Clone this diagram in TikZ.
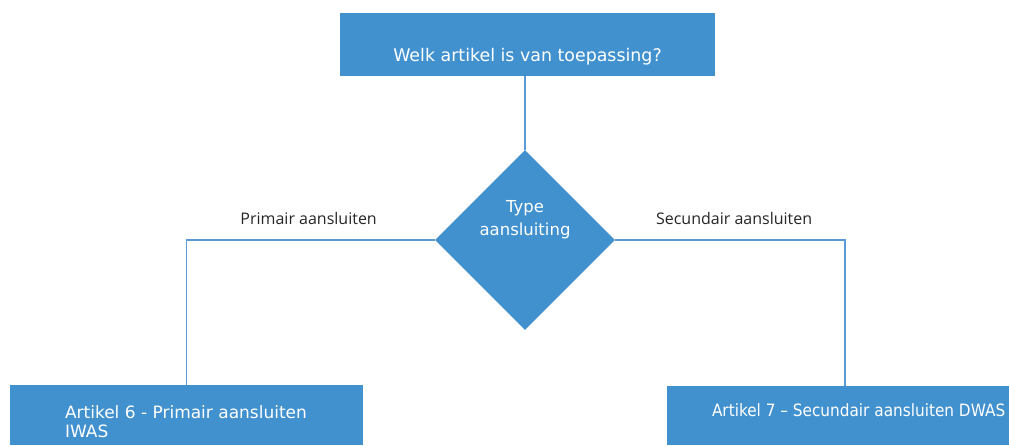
\documentclass[tikz,border=0pt]{standalone}
\usepackage{fontspec}
\setmainfont{DejaVu Sans}
\newfontfamily\labelfont{Open Sans}
\usetikzlibrary{shapes.geometric}
\definecolor{boxblue}{HTML}{4191CF}
\definecolor{lineblue}{HTML}{5B9BD5}
\definecolor{labelgray}{HTML}{262626}
\tikzset{
  box/.style={rectangle, fill=boxblue, draw=none, text=white, inner sep=0pt,
    font=\fontsize{17}{19}\selectfont},
  decision/.style={diamond, aspect=1, fill=boxblue, draw=none, text=white, inner sep=0pt,
    minimum width=180pt, minimum height=180pt, font=\fontsize{16.5}{23}\selectfont},
  conn/.style={draw=lineblue, line width=1.3pt},
  edgelabel/.style={text=labelgray, font=\labelfont\fontsize{16}{18}\selectfont, inner sep=0pt}
}
\begin{document}
\begin{tikzpicture}[x=1pt,y=-1pt]
\useasboundingbox (0,0) rectangle (1009,445);
\node[box, minimum width=375pt, minimum height=63pt] (top) at (527.5,44.5)
  {\raisebox{-16.5pt}[0pt][0pt]{\fontsize{17.4}{20}\selectfont Welk artikel is van toepassing?}};
\node[decision] (d) at (525,240)
  {\raisebox{16pt}[0pt][0pt]{\begin{tabular}{@{}c@{}}Type\\aansluiting\end{tabular}}};
\node[box, minimum width=353pt, minimum height=60pt] (left) at (186.5,415)
  {\raisebox{-13.5pt}[0pt][0pt]{\makebox[243pt][l]{\begin{tabular}{@{}l@{}}Artikel 6 - Primair aansluiten\\IWAS\end{tabular}}}};
\node[box, minimum width=342pt, minimum height=59pt] (right) at (838,415.5)
  {\raisebox{-0.5pt}[0pt][0pt]{\makebox[252pt][l]{\scalebox{0.9}[1]{Artikel 7 – Secundair aansluiten DWAS}}}};
\coordinate (rtop) at ([xshift=7pt]right.north);
\draw[conn] (top.south -| d.north) -- (d.north);
\draw[conn] (d.west) -- (d.west -| left.north)
  node[pos=0.5, above=15pt, edgelabel, xshift=-2pt] {Primair aansluiten} -- (left.north);
\draw[conn] (d.east) -- (d.east -| rtop)
  node[pos=0.5, above=15pt, edgelabel, xshift=4pt] {Secundair aansluiten} -- (rtop);
\end{tikzpicture}
\end{document}
